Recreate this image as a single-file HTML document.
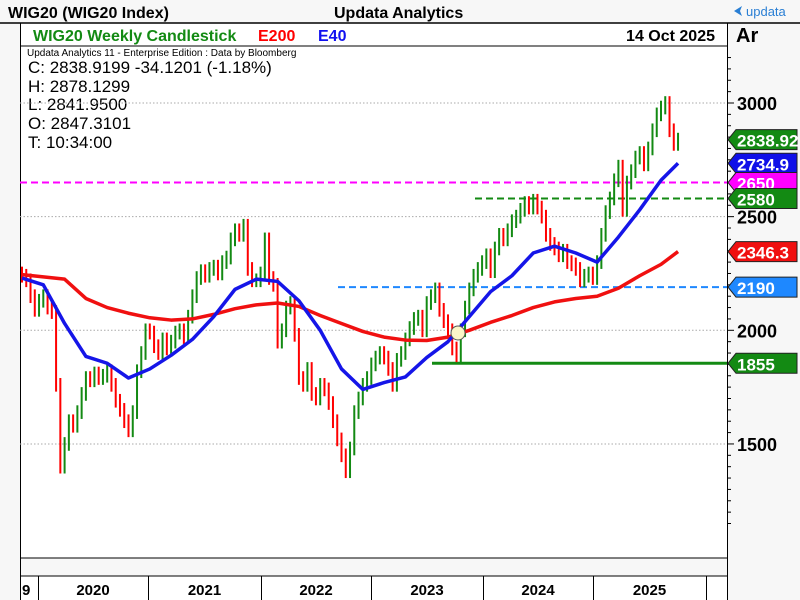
<!DOCTYPE html>
<html><head><meta charset="utf-8">
<style>
body{margin:0;width:800px;height:600px;overflow:hidden;background:#fff;font-family:"Liberation Sans",Arial,sans-serif}
svg{display:block}
text{font-family:"Liberation Sans",Arial,sans-serif}
</style></head>
<body>
<svg id="chart" width="800" height="600">
  <rect x="0" y="0" width="800" height="600" fill="#f7f7f7"/>
  <rect x="20" y="46" width="707" height="512" fill="#fff"/>
  <rect x="20" y="23" width="707" height="23" fill="#fff"/>
  <rect x="20" y="576" width="707" height="24" fill="#fff"/>
  <line x1="0" y1="23" x2="800" y2="23" stroke="#000" stroke-width="1.5"/>
  <line x1="20" y1="46" x2="727" y2="46" stroke="#000"/>
  <line x1="20" y1="558" x2="727" y2="558" stroke="#000"/>
  <line x1="20" y1="576" x2="727" y2="576" stroke="#000"/>
  <line x1="20.5" y1="23" x2="20.5" y2="600" stroke="#000"/>
  <line x1="727.5" y1="23" x2="727.5" y2="600" stroke="#000"/>
  <text x="8" y="18" font-size="16" font-weight="bold">WIG20 (WIG20 Index)</text>
  <text x="334" y="18" font-size="16" font-weight="bold">Updata Analytics</text>
  <g>
    <polygon points="734,11 742,6 740,11 742,16" fill="#2a7fd4"/>
    <text x="746" y="16" font-size="13" fill="#2a7fd4">updata</text>
  </g>
  <text x="33" y="41" font-size="16" font-weight="bold" fill="#138a13">WIG20 Weekly Candlestick</text>
  <text x="258" y="41" font-size="16" font-weight="bold" fill="#f00">E200</text>
  <text x="318" y="41" font-size="16" font-weight="bold" fill="#1010f0">E40</text>
  <text x="715" y="41" font-size="16" font-weight="bold" text-anchor="end">14 Oct 2025</text>
  <text x="736" y="42" font-size="20" font-weight="bold">Ar</text>
  <g>
    <text x="27" y="56" font-size="10">Updata Analytics 11 - Enterprise Edition : Data by Bloomberg</text>
    <text x="28" y="73" font-size="17">C: 2838.9199  -34.1201 (-1.18%)</text>
    <text x="28" y="92" font-size="17">H: 2878.1299</text>
    <text x="28" y="110" font-size="17">L: 2841.9500</text>
    <text x="28" y="129" font-size="17">O: 2847.3101</text>
    <text x="28" y="148" font-size="17">T: 10:34:00</text>
  </g>
  <g id="grid"></g><g id="levels"></g><g id="candles"></g><g id="emas"></g><g id="yaxis"></g><g id="tags"></g><g id="xaxis"></g>
</svg>
<script>
const closes=[2240,2220,2150,2090,2130,2150,2100,2080,1760,1400,
1500,1600,1580,1640,1720,1790,1780,1810,1790,1800,
1820,1760,1690,1650,1600,1560,1640,1820,1900,2000,
1990,1930,1900,1960,1920,1950,1990,2000,1970,2060,
2150,2230,2260,2240,2270,2280,2250,2300,2320,2400,
2440,2420,2460,2270,2220,2220,2250,2400,2230,2200,
1950,2000,2100,2120,1980,1790,1760,1830,1720,1700,
1760,1740,1680,1600,1520,1450,1380,1480,1640,1700,
1760,1790,1850,1880,1900,1880,1830,1760,1870,1900,
1960,2010,2050,2060,2000,2120,2150,2180,2090,2040,
2000,1920,1890,2000,2100,2180,2240,2270,2300,2330,
2260,2360,2420,2400,2440,2480,2500,2530,2560,2540,
2570,2540,2500,2420,2380,2360,2330,2350,2300,2290,
2270,2220,2240,2250,2230,2300,2420,2520,2580,2660,
2720,2530,2650,2700,2760,2780,2730,2800,2880,2950,
2980,3000,2880,2820,2838.92];
const e40=[2230,2200,2030,1885,1855,1790,1830,1890,1960,2060,2180,2225,2215,2130,2000,1830,1740,1770,1795,1880,1950,2060,2170,2240,2340,2370,2340,2300,2410,2530,2660,2734.9];
const e200=[2245,2235,2225,2140,2100,2075,2055,2045,2050,2070,2095,2112,2120,2105,2065,2030,1995,1970,1957,1955,1970,2000,2035,2065,2100,2125,2140,2150,2185,2240,2290,2346.3];
const yTicks=[3000,2500,2000,1500];
const years=["9","2020","2021","2022","2023","2024","2025",""];
const levelValues=[2650,2580,2190,1855];
const NS="http://www.w3.org/2000/svg";
const X=i=>22+i*4.26;
const Y=v=>103+(3000-v)*0.2273;
function mk(tag,attrs,parent){const e=document.createElementNS(NS,tag);for(const k in attrs)e.setAttribute(k,attrs[k]);document.getElementById(parent).appendChild(e);return e;}
yTicks.forEach(v=>{const l=mk('line',{x1:20,x2:727,y1:Y(v),y2:Y(v),stroke:'#aaa','stroke-dasharray':'1.5 2'},'grid');

});
const lvStyle=[{x1:20,c:'#ff00ff',d:'7 4',w:2},{x1:475,c:'#138a13',d:'7 4',w:2},{x1:338,c:'#1e88ff',d:'7 4',w:2},{x1:432,c:'#138a13',d:'',w:3}];
levelValues.forEach((v,k)=>{const s=lvStyle[k];const l=mk('line',{x1:s.x1,x2:727,y1:Y(v),y2:Y(v),stroke:s.c,'stroke-width':s.w,'stroke-dasharray':s.d},'levels');

});
closes.forEach((c,i)=>{const o=i?closes[i-1]:c+10;const hi=Math.max(o,c)+30,lo=Math.min(o,c)-30;
const l=mk('line',{x1:X(i),x2:X(i),y1:Y(hi),y2:Y(lo),stroke:c>=o?'#138a13':'#f00','stroke-width':2},'candles');

});
function ema(arr,col,name){const pts=arr.map((v,k)=>{const i=k<arr.length-1?k*5:closes.length-1;return X(i)+','+Y(v)}).join(' ');
const p=mk('polyline',{points:pts,fill:'none',stroke:col,'stroke-width':3.5,'stroke-linejoin':'round'},'emas');

}
ema(e200,'#f01010','e200-line');ema(e40,'#1515e8','e40-line');
const cir=mk('circle',{cx:458,cy:333,r:7,fill:'#fbf6c8',stroke:'#555','stroke-width':1},'emas');


for(let v=1150;v<=3200;v+=50){mk('line',{x1:727,x2:v%500?731:734,y1:Y(v),y2:Y(v),stroke:'#000'},'yaxis');}
yTicks.forEach(v=>{const t=mk('text',{x:737,y:Y(v)+7,'font-size':18,'font-weight':'bold'},'yaxis');t.textContent=v;

});
const tagVals=[2838.92,2734.9,2650,2580,2346.3,2190,1855];
const tagLabels=["2838.92","2734.9","2650","2580","2346.3","2190","1855"];
const tagCols=['#138a13','#1010e8','#ff00ff','#138a13','#f01010','#1e88ff','#138a13'];
tagVals.forEach((v,k)=>{const y=Y(v);const g=mk('g',{},'tags');


const p=document.createElementNS(NS,'polygon');p.setAttribute('points',`728,${y} 736,${y-10} 797,${y-10} 797,${y+10} 736,${y+10}`);p.setAttribute('fill',tagCols[k]);p.setAttribute('stroke','#222');g.appendChild(p);
const t=document.createElementNS(NS,'text');t.setAttribute('x',737);t.setAttribute('y',y+7);t.setAttribute('font-size',17);t.setAttribute('font-weight','bold');t.setAttribute('fill','#fff');t.textContent=tagLabels[k];g.appendChild(t);});
const divs=[20,38,148,261,371,483,593,706,727];
years.forEach((yr,k)=>{if(k>0&&k<8){mk('line',{x1:divs[k]+.5,x2:divs[k]+.5,y1:576,y2:600,stroke:'#000'},'xaxis');}
if(!yr)return;const t=mk('text',{x:k==0?22:(divs[k]+divs[k+1])/2,y:595,'font-size':15,'font-weight':'bold','text-anchor':k==0?'start':'middle'},'xaxis');t.textContent=yr;

});
</script>
</body></html>
